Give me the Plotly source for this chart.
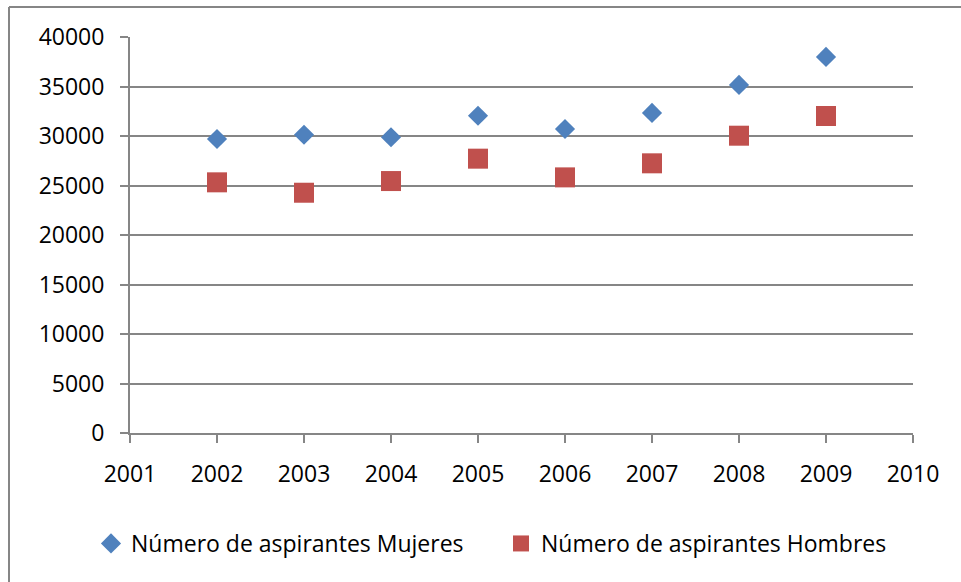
import plotly.graph_objects as go

years = [2002, 2003, 2004, 2005, 2006, 2007, 2008, 2009]
mujeres = [29700, 30130, 29870, 32050, 30710, 32330, 35160, 37990]
hombres = [25320, 24270, 25450, 27710, 25820, 27240, 30030, 32020]

name_m = "Número de aspirantes Mujeres"
name_h = "Número de aspirantes Hombres"

FONT = "Open Sans"
GRID = "#868686"
FS = 23

fig = go.Figure()
fig.add_trace(go.Scatter(x=years, y=mujeres, mode="markers", name=name_m,
                         marker=dict(symbol="diamond", size=15.5, color="#4F81BD")))
fig.add_trace(go.Scatter(x=years, y=hombres, mode="markers", name=name_h,
                         marker=dict(symbol="square", size=20, color="#C0504D")))

L, R, T, B = 130, 48, 37, 149
W, H = 961, 582
pw, ph = W - L - R, H - T - B

def px2x(p):
    return (p - L) / pw

def py2y(p):
    return (H - B - p) / ph

fig.update_layout(
    width=W, height=H,
    margin=dict(l=L, r=R, t=T, b=B),
    paper_bgcolor="white", plot_bgcolor="white",
    font=dict(family=FONT, size=FS, color="#000000"),
    showlegend=True,
    legend=dict(orientation="h", x=px2x(91), xanchor="left", y=py2y(522), yanchor="top",
                font=dict(family=FONT, size=FS), entrywidth=365, entrywidthmode="pixels",
                itemsizing="trace", bgcolor="rgba(0,0,0,0)"),
    xaxis=dict(range=[2001, 2010], tickmode="linear", tick0=2001, dtick=1, tickformat="d",
               showgrid=False, zeroline=False, showline=True, linecolor=GRID, linewidth=2,
               ticks="outside", ticklen=8, tickwidth=2, tickcolor=GRID,
               tickfont=dict(family=FONT, size=FS), ticklabelstandoff=11),
    yaxis=dict(range=[0, 40000], tickmode="linear", tick0=0, dtick=5000, tickformat="d",
               showgrid=True, gridcolor=GRID, gridwidth=2, zeroline=False,
               showline=True, linecolor=GRID, linewidth=2,
               ticks="outside", ticklen=8, tickwidth=2, tickcolor=GRID,
               tickfont=dict(family=FONT, size=FS), ticklabelstandoff=11),
    shapes=[
        dict(type="line", xref="paper", yref="paper", x0=px2x(9), x1=px2x(W + 5),
             y0=py2y(7), y1=py2y(7), line=dict(color=GRID, width=2)),
        dict(type="line", xref="paper", yref="paper", x0=px2x(9), x1=px2x(9),
             y0=py2y(7), y1=py2y(H + 5), line=dict(color=GRID, width=2)),
    ],
)

fig.write_html("out.html", config={"displayModeBar": False},
               post_script="document.body.style.margin='0';document.body.style.overflow='hidden';")
